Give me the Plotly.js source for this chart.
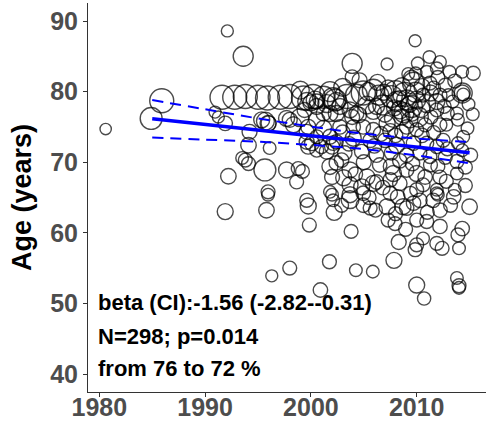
<!DOCTYPE html>
<html>
<head>
<meta charset="utf-8">
<script src="https://cdn.plot.ly/plotly-3.0.1.min.js"></script>
<style>html,body{margin:0;padding:0;background:#fff;}#chart{width:486px;height:426px;}</style>
</head>
<body>
<div id="chart"></div>
<script>
// Study year, mean age (years) and study weight (size of bubble)
const years = [
1980.6,1984.9,1985.9,1992.1,1993.6,
1991.6,1992.8,1993.8,1995.0,1995.9,1997.1,1998.0,1999.3,2000.2,2001.2,2002.1,2004.95,2005.9,
2002.3,2003.4,2004.3,2005.4,2001.8,2006.4,2007.6,2007.3,2008.6,2009.7,2010.5,2011.25,2012.7,2012.2,2013.0,2014.3,2014.3,2014.4,
1999.6,2000.4,2001.5,2002.4,2000.0,2000.55,2005.3,2006.8,2008.1,2009.05,2010.0,2010.95,2011.9,2002.75,2009.5,2008.4,2011.9,2003.7,2002.4,2005.9,2001.8,2004.5,2010.15,2009.35,2008.6,2007.8,2007.2,2011.35,2010.8,2013.8,2013.9,2012.8,2000.55,2001.2,2003.9,2004.3,2004.0,2002.75,2004.95,2005.9,2009.05,2010.0,2008.6,
2003.9,2007.2,2009.85,2011.2,2010.1,2012.2,2011.9,2010.95,2013.1,2014.3,2015.35,2009.5,2003.9,2009.2,2009.9,
1990.94,1991.25,1991.9,1994.2,1994.1,1996.1,1993.8,1994.1,1993.5,1992.2,1995.65,1995.95,1995.95,1991.9,1995.8,1996.3,1995.95,1995.35,1995.7,1996.0,1997.7,1998.0,1998.35,1998.95,1999.6,1999.75,2000.55,2001.5,2002.0,2001.8,2002.0,1999.6,1999.4,2000.55,1999.75,2001.2,2001.8,2000.55,1999.6,2001.0,2002.4,2000.1,
2002.1,2004.0,2005.6,2007.0,2008.1,2009.7,2010.95,2011.9,2012.5,2003.2,2004.8,2006.2,2007.6,2009.05,2010.3,2011.25,2014.4,2013.9,2014.3,2013.8,
2002.4,2003.7,2005.3,2006.2,2007.6,2007.8,2009.05,2010.0,2010.8,2012.0,2012.2,2013.8,2013.6,2011.9,2009.4,2007.5,2004.95,2003.7,1997.7,1998.8,1999.2,1998.65,1999.75,1999.85,2001.8,2002.0,2002.1,2002.2,2003.7,2003.1,2003.7,2003.8,2004.95,2005.6,2006.1,2004.8,2005.9,2007.2,2008.7,2007.5,2008.4,2010.0,2009.7,2010.3,2011.55,2011.9,2012.0,2012.2,2013.5,2015.0,2009.05,2007.95,2008.95,2010.0,2010.95,2012.2,2014.3,2013.9,2008.3,2010.0,2011.9,2012.4,2009.85,2014.0,2010.6,2007.3,
1998.0,2001.75,2004.25,2005.85,2007.85,2000.9,2010.0,2010.7,2013.8,2014.0,2014.0,
2008.0,2008.9,2009.9,2008.4,2009.3,2010.4,2008.8,2007.9,2009.6,2010.6,2006.9,2007.0,2006.2,2011.3,2011.6,2012.6,2012.9,2013.4,
2003.0,2006.6,2007.5,2008.0,2010.5,2011.6,2012.2,2006.0,2003.6,2002.9,2005.0,2006.5,2008.4,2009.6,2011.3,2012.7,2012.9,2014.6,2014.8,2015.1,2015.3,2014.9,2014.6,
2004.2,2006.8,2008.2,2010.6,2012.8,2013.2,2011.0,2008.0,2005.5,2002.9,
1999.0,2003.0,2006.3,2004.6,2012.0,2013.6
];
const ages = [
74.7,76.2,78.7,88.6,85.0,
79.2,79.2,79.3,79.2,79.1,79.2,79.3,79.1,79.3,79.2,79.0,79.8,80.2,
78.8,79.3,79.5,80.0,80.0,79.5,79.3,80.5,80.7,81.2,80.7,81.2,80.9,79.5,79.5,79.8,79.8,79.6,
78.6,78.8,78.3,78.6,78.4,78.6,78.1,78.1,78.6,78.8,78.8,78.3,78.6,77.9,77.9,77.4,77.4,77.4,76.9,77.2,76.9,76.7,76.4,76.0,76.4,76.2,75.5,76.4,75.3,76.9,76.0,75.3,77.9,76.9,76.4,76.9,75.0,75.0,75.0,74.6,75.0,74.6,74.3,
84.0,83.9,87.2,84.9,84.0,84.2,83.3,82.8,82.8,82.8,82.6,81.9,82.1,82.5,82.6,
77.1,76.4,75.5,74.3,72.4,72.0,70.3,69.8,70.6,68.0,68.9,65.8,65.4,63.0,63.2,53.9,75.5,76.0,75.8,75.5,76.2,76.0,75.3,76.3,74.3,72.2,71.7,71.5,72.2,69.4,67.9,64.6,77.4,76.0,75.0,74.8,73.6,73.6,72.9,72.2,72.9,72.7,
72.7,73.4,73.1,73.1,72.4,72.7,72.7,72.2,73.1,71.3,71.5,71.0,71.3,71.0,71.3,70.8,73.6,72.7,71.7,70.1,
69.9,68.9,67.9,67.2,69.4,68.4,68.9,68.4,67.9,69.4,67.9,68.4,66.1,65.6,65.6,65.6,65.6,65.4,68.9,69.1,68.7,67.2,63.8,61.1,65.8,65.4,64.6,62.9,64.7,67.8,66.8,60.2,63.9,63.5,63.2,66.5,67.0,63.7,63.7,67.5,67.0,66.1,64.2,64.6,64.6,66.1,65.4,63.2,65.1,63.7,63.5,61.3,60.5,61.8,61.6,60.9,60.6,59.7,58.7,58.3,58.5,57.8,57.6,57.8,59.2,61.8,
55.0,55.9,54.7,54.5,56.1,51.9,52.6,50.7,53.6,52.5,52.2,
80.0,79.6,79.9,79.0,78.2,77.6,77.0,77.7,76.8,79.5,79.9,76.8,77.9,79.8,80.5,77.9,76.9,78.6,
74.2,74.0,74.4,73.8,73.8,74.2,75.3,72.3,72.6,70.3,70.0,69.6,70.2,69.8,69.6,70.7,71.9,69.3,74.8,71.0,76.8,78.2,66.7,
68.3,66.4,65.1,66.8,67.3,63.9,62.9,62.7,65.0,63.9,
80.2,80.6,81.3,81.6,82.0,81.5
];
const weights = [
8,30,36,9,25,
36,36,36,36,36,36,36,36,36,30,30,36,30,
30,36,30,20,25,25,30,16,20,30,16,12,12,12,10,25,16,10,
20,20,20,20,16,14,20,25,25,25,20,20,16,16,30,20,12,16,16,16,16,16,25,16,16,20,16,12,12,10,10,10,16,14,14,14,13,13,13,13,13,12,13,
25,9,9,10,10,10,10,10,10,10,12,16,12,10,10,
9,9,13,14,15,10,12,12,10,15,30,12,10,16,15,9,16,16,20,14,16,14,16,20,14,14,12,14,14,16,14,12,14,16,14,16,14,12,14,12,12,14,
13,16,13,13,16,13,12,12,12,13,13,13,12,13,12,12,10,10,10,12,
13,16,16,13,16,16,13,16,13,12,12,10,10,10,12,13,13,16,16,12,12,12,16,12,10,10,10,16,20,16,16,12,13,12,12,16,16,16,16,13,13,12,13,13,13,10,10,13,13,15,13,12,12,12,12,13,13,12,14,12,12,12,12,10,10,12,
12,12,10,10,16,13,16,11,10,12,10,
30,36,25,16,16,20,25,16,12,12,16,16,16,16,12,12,12,10,
14,14,14,13,13,12,12,13,13,13,14,13,13,13,12,12,12,12,10,12,10,10,12,
13,13,13,12,12,12,12,12,12,12,
20,20,16,14,12,12
];

// Fitted trend and its confidence band
const fitYears = [1985, 2015];
const fitAge = [76.15, 71.35];
const ciYears = [1985, 1990, 1995, 2000, 2005, 2010, 2015];
const ciUpper = [78.8, 77.5, 76.2, 75.05, 74.05, 73.35, 72.85];
const ciLower = [73.5, 73.2, 72.9, 72.45, 71.85, 70.95, 69.85];

const xTicks = [1980, 1990, 2000, 2010];
const yTicks = [40, 50, 60, 70, 80, 90];

const statLines = ["beta (CI):-1.56 (-2.82--0.31)", "N=298; p=0.014", "from 76 to 72 %"];

const sizes = weights.map(w => 4 * Math.sqrt(w));

const traces = [
  {
    type: 'scatter', mode: 'markers', x: years, y: ages,
    marker: {symbol: 'circle', size: sizes, color: 'rgba(0,0,0,0)', line: {color: '#000', width: 1.4}},
    hoverinfo: 'skip', cliponaxis: false
  },
  {type: 'scatter', mode: 'lines', x: ciYears, y: ciUpper, line: {color: '#0000FF', width: 2, dash: '11px,7px', shape: 'spline'}},
  {type: 'scatter', mode: 'lines', x: ciYears, y: ciLower, line: {color: '#0000FF', width: 2, dash: '11px,7px', shape: 'spline'}},
  {type: 'scatter', mode: 'lines', x: fitYears, y: fitAge, line: {color: '#0000FF', width: 3.5}}
];

const fontFam = '"Liberation Sans", Arial, Helvetica, sans-serif';
const statY = [50.06, 45.3, 40.85];

const layout = {
  width: 486, height: 426,
  margin: {l: 88, r: 0, t: 3, b: 34},
  paper_bgcolor: '#fff', plot_bgcolor: '#fff',
  showlegend: false,
  font: {family: fontFam},
  xaxis: {
    range: [1978.93, 2016.55], tickvals: xTicks, ticktext: xTicks.map(String),
    ticks: 'outside', ticklen: 4, tickwidth: 1, tickcolor: '#333',
    showline: true, linecolor: '#333', linewidth: 1, mirror: false,
    showgrid: false, zeroline: false, ticklabelstandoff: -11,
    tickfont: {family: fontFam, size: 25, color: '#4d4d4d', weight: 'bold'}
  },
  yaxis: {
    range: [37.45, 92.55], tickvals: yTicks, ticktext: yTicks.map(String),
    ticks: 'outside', ticklen: 4, tickwidth: 1, tickcolor: '#333',
    showline: true, linecolor: '#333', linewidth: 1,
    showgrid: false, zeroline: false,
    tickfont: {family: fontFam, size: 25, color: '#4d4d4d', weight: 'bold'},
    title: {text: 'Age (years)', font: {family: fontFam, size: 27, color: '#000', weight: 'bold'}, standoff: 10}
  },
  annotations: statLines.map((t, i) => ({
    text: t, x: 1979.7, y: statY[i], xref: 'x', yref: 'y',
    xanchor: 'left', yanchor: 'middle', showarrow: false,
    font: {family: fontFam, size: 22, color: '#000', weight: 'bold'}
  }))
};

Plotly.newPlot('chart', traces, layout, {displayModeBar: false, staticPlot: true});
</script>
</body>
</html>
